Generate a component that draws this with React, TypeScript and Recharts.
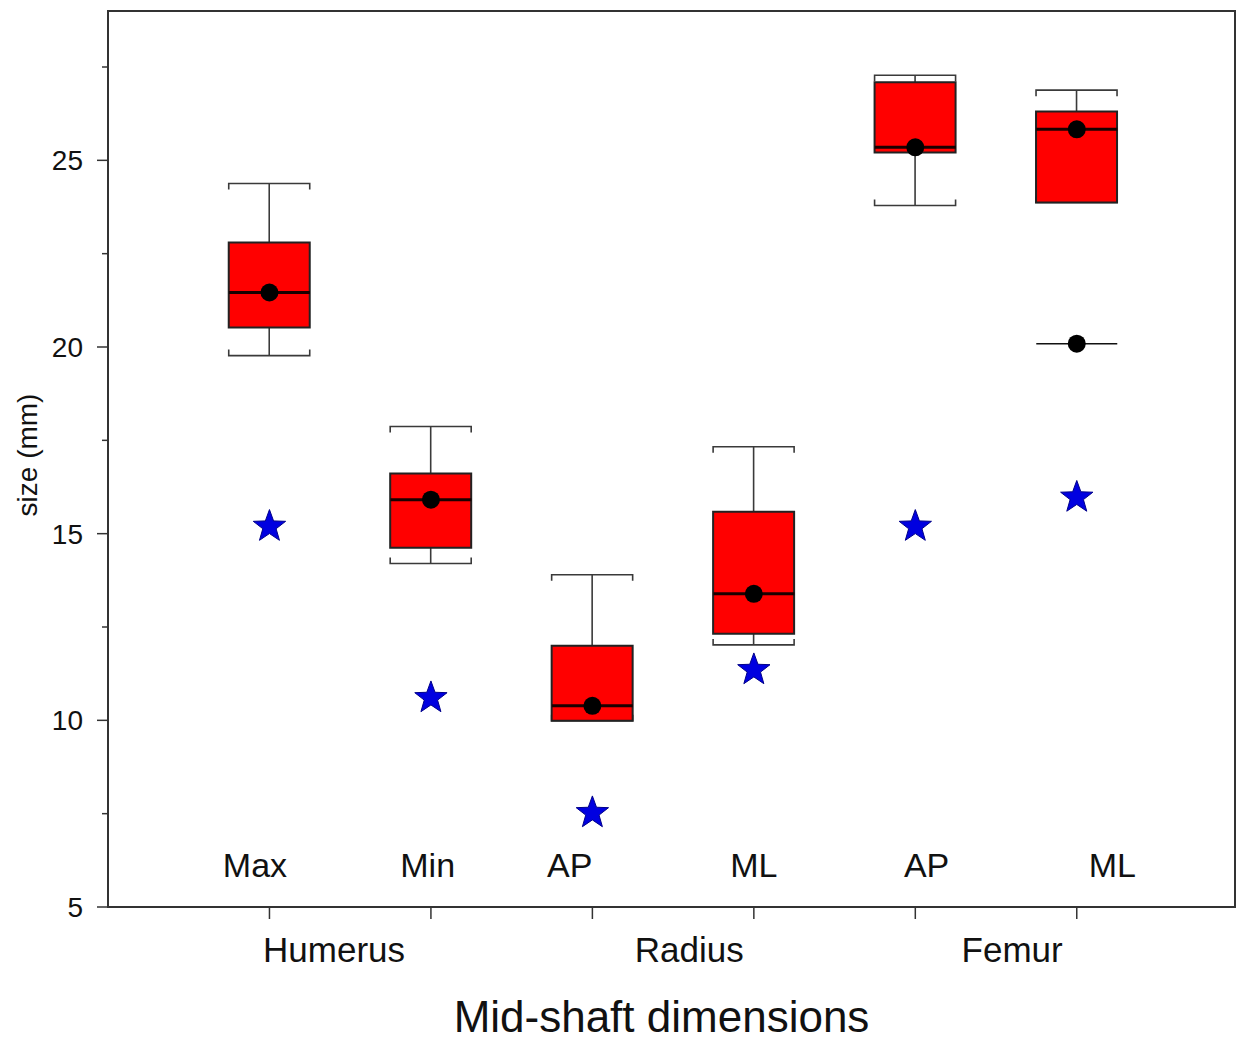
import React from 'react'
import {
  ComposedChart,
  Bar,
  Scatter,
  XAxis,
  YAxis,
  ReferenceArea,
} from 'recharts'

// values (mm)
const dimensions = ['Max', 'Min', 'AP', 'ML', 'AP', 'ML']
const positions = [1, 2, 3, 4, 5, 6]
const whiskerHigh = [24.38, 17.87, 13.9, 17.33, 27.28, 26.88]
const q3 = [22.8, 16.61, 12.0, 15.59, 27.09, 26.31]
const medians = [21.46, 15.91, 10.39, 13.39, 25.35, 25.83]
const q1 = [20.52, 14.62, 9.99, 12.32, 25.21, 23.87]
const whiskerLow = [19.77, 14.2, 9.99, 12.02, 23.79, 23.87]
const starValues = [15.19, 10.6, 7.52, 11.35, 15.19, 15.97]
const outlierX = [6]
const outlierY = [20.09]

const bones = ['Humerus', 'Radius', 'Femur']
const bonePositions = [1.4, 3.6, 5.6]
const dimLabelX = [0.91, 1.98, 2.86, 4.0, 5.07, 6.22]
const DIM_LABEL_Y = 6.14

const yTicks = [5, 7.5, 10, 12.5, 15, 17.5, 20, 22.5, 25, 27.5]
const X_DOMAIN: [number, number] = [0, 6.98]
const Y_DOMAIN: [number, number] = [5, 29]

const FONT = '"Liberation Sans", Arial, sans-serif'
const AXIS = '#333'
const BOX_W = 81

const boxData = positions.map((x, i) => ({
  x,
  wlo: whiskerLow[i],
  q1: q1[i],
  med: medians[i],
  q3: q3[i],
  whi: whiskerHigh[i],
}))
const medianData = positions.map((x, i) => ({ x, y: medians[i] }))
const starData = positions.map((x, i) => ({ x, y: starValues[i] }))
const outlierData = outlierX.map((x, i) => ({ x, y: outlierY[i] }))
const labelData = dimensions.map((name, i) => ({ x: dimLabelX[i], y: DIM_LABEL_Y, name }))

const WhiskerShape = (props: any) => {
  const { x, y, width, height } = props
  const cx = x + width / 2
  const top = y
  const bottom = y + height
  const l = x
  const r = x + width
  return (
    <g stroke="#3a3a3a" strokeWidth={1.6} fill="none">
      <line x1={cx} x2={cx} y1={top} y2={bottom} />
      <polyline points={`${l},${top + 6} ${l},${top} ${r},${top} ${r},${top + 6}`} />
      <polyline points={`${l},${bottom - 6} ${l},${bottom} ${r},${bottom} ${r},${bottom - 6}`} />
    </g>
  )
}

const MedianShape = (props: any) => {
  const { cx, cy } = props
  return (
    <g>
      <line x1={cx - BOX_W / 2} x2={cx + BOX_W / 2} y1={cy} y2={cy} stroke="#1a0000" strokeWidth={3} />
      <circle cx={cx} cy={cy} r={9} fill="#000" />
    </g>
  )
}

const OutlierShape = (props: any) => {
  const { cx, cy } = props
  return (
    <g>
      <line x1={cx - BOX_W / 2} x2={cx + BOX_W / 2} y1={cy} y2={cy} stroke="#111" strokeWidth={1.5} />
      <circle cx={cx} cy={cy} r={9} fill="#000" />
    </g>
  )
}

const StarShape = (props: any) => {
  const { cx, cy } = props
  const outer = 17
  const inner = 7
  const pts: string[] = []
  for (let k = 0; k < 10; k++) {
    const rad = k % 2 === 0 ? outer : inner
    const a = -Math.PI / 2 + (k * Math.PI) / 5
    pts.push(`${cx + rad * Math.cos(a)},${cy + rad * Math.sin(a)}`)
  }
  return <polygon points={pts.join(' ')} fill="#0000e0" stroke="#00008a" strokeWidth={1} />
}

const DimLabel = (props: any) => {
  const { cx, cy, payload } = props
  return (
    <text x={cx} y={cy} dy="0.36em" textAnchor="middle" fontSize={34} fontFamily={FONT} fill="#111">
      {payload.name}
    </text>
  )
}

const YTick = (props: any) => {
  const { x, y, payload } = props
  const major = payload.value % 5 === 0
  return (
    <g>
      <line x1={x - (major ? 11 : 6)} x2={x} y1={y} y2={y} stroke={AXIS} strokeWidth={1.5} />
      {major && (
        <text x={x - 25} y={y} dy="0.36em" textAnchor="end" fontSize={28} fontFamily={FONT} fill="#111">
          {payload.value}
        </text>
      )}
    </g>
  )
}

const BoneTick = (props: any) => {
  const { x, y, payload } = props
  const idx = bonePositions.indexOf(payload.value)
  return (
    <text x={x} y={y + 25} textAnchor="middle" fontSize={35} fontFamily={FONT} fill="#111">
      {bones[idx]}
    </text>
  )
}

export default function App() {
  return (
    <div style={{ position: 'absolute', left: 0, top: 0, background: '#fff' }}>
      <ComposedChart
        width={1237}
        height={1042}
        data={boxData}
        margin={{ top: 11, right: 2, left: 0, bottom: 0 }}
      >
        <XAxis
          dataKey="x"
          type="number"
          domain={X_DOMAIN}
          ticks={positions}
          tickFormatter={() => ''}
          tickSize={12}
          height={30}
          allowDataOverflow
          axisLine={{ stroke: AXIS, strokeWidth: 2 }}
          tickLine={{ stroke: AXIS, strokeWidth: 1.5 }}
        />
        <XAxis
          xAxisId="bone"
          dataKey="x"
          type="number"
          domain={X_DOMAIN}
          ticks={bonePositions}
          tick={<BoneTick />}
          tickSize={0}
          tickMargin={0}
          height={105}
          axisLine={false}
          tickLine={false}
          allowDataOverflow
          label={{
            content: (p: any) => {
              const vb = p.viewBox
              return (
                <text
                  x={vb.x + vb.width / 2 - 10}
                  y={vb.y + 95}
                  textAnchor="middle"
                  fontSize={44}
                  fontFamily={FONT}
                  fill="#111"
                >
                  Mid-shaft dimensions
                </text>
              )
            },
          }}
        />
        <XAxis xAxisId="whisk" dataKey="x" type="number" domain={X_DOMAIN} hide allowDataOverflow />
        <XAxis xAxisId="wbox" dataKey="x" type="number" domain={X_DOMAIN} hide allowDataOverflow />
        <YAxis
          type="number"
          domain={Y_DOMAIN}
          ticks={yTicks}
          width={108}
          tickSize={0}
          tickMargin={0}
          tickLine={false}
          tick={<YTick />}
          allowDataOverflow
          axisLine={{ stroke: AXIS, strokeWidth: 2 }}
          label={{
            content: (p: any) => {
              const vb = p.viewBox
              const cy = vb.y + vb.height / 2 - 4
              return (
                <text
                  x={37}
                  y={cy}
                  transform={`rotate(-90, 37, ${cy})`}
                  textAnchor="middle"
                  fontSize={28}
                  fontFamily={FONT}
                  fill="#111"
                >
                  size (mm)
                </text>
              )
            },
          }}
        />
        <ReferenceArea
          x1={X_DOMAIN[0]}
          x2={X_DOMAIN[1]}
          y1={Y_DOMAIN[0]}
          y2={Y_DOMAIN[1]}
          fill="none"
          stroke={AXIS}
          strokeWidth={2}
          ifOverflow="visible"
        />
        <Bar
          xAxisId="whisk"
          dataKey={(d: any) => [d.wlo, d.whi]}
          barSize={BOX_W}
          shape={<WhiskerShape />}
          isAnimationActive={false}
        />
        <Bar
          xAxisId="wbox"
          dataKey={(d: any) => [d.q1, d.q3]}
          barSize={BOX_W}
          fill="#ff0000"
          stroke="#222"
          strokeWidth={2}
          isAnimationActive={false}
        />
        <Scatter data={medianData} dataKey="y" shape={<MedianShape />} isAnimationActive={false} />
        <Scatter data={outlierData} dataKey="y" shape={<OutlierShape />} isAnimationActive={false} />
        <Scatter data={starData} dataKey="y" shape={<StarShape />} isAnimationActive={false} />
        <Scatter data={labelData} dataKey="y" shape={<DimLabel />} isAnimationActive={false} />
      </ComposedChart>
    </div>
  )
}
